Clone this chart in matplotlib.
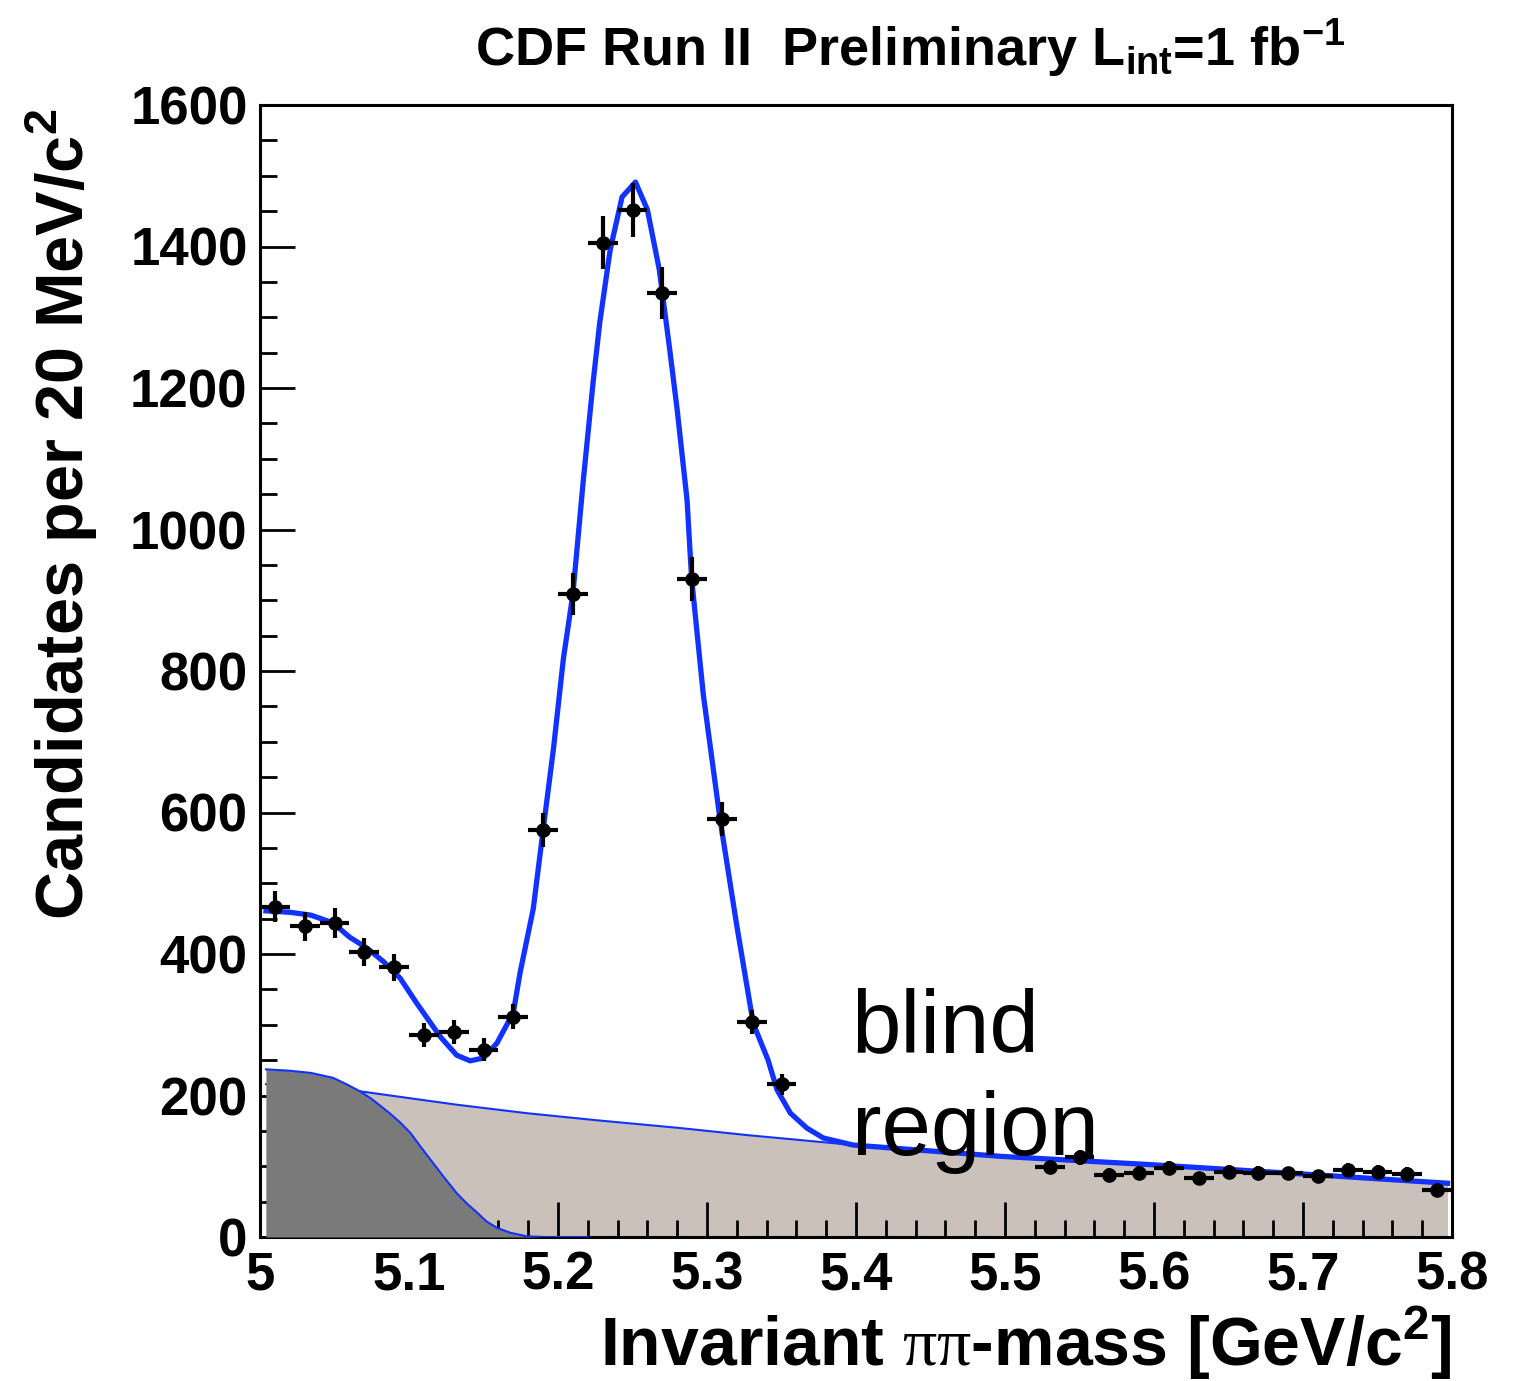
import numpy as np
import matplotlib
matplotlib.use("Agg")
import matplotlib.pyplot as plt
from matplotlib.ticker import MultipleLocator

plt.rcParams['font.family'] = ['Liberation Sans', 'DejaVu Sans']
plt.rcParams['mathtext.fontset'] = 'custom'
plt.rcParams['mathtext.rm'] = 'Liberation Sans:bold'
plt.rcParams['mathtext.bf'] = 'Liberation Sans:bold'
plt.rcParams['mathtext.sf'] = 'Liberation Serif'

# binned candidates, 20 MeV bins (blind region 5.36-5.52 left out)
mass = [5.01, 5.03, 5.05, 5.07, 5.09, 5.11, 5.13, 5.15, 5.17, 5.19,
        5.21, 5.23, 5.25, 5.27, 5.29, 5.31, 5.33, 5.35,
        5.53, 5.55, 5.57, 5.59, 5.61, 5.63, 5.65, 5.67, 5.69, 5.71,
        5.73, 5.75, 5.77, 5.79]
counts = [467, 439, 444, 403, 381, 285, 290, 265, 311, 575,
          909, 1405, 1452, 1334, 930, 591, 304, 216,
          99, 113, 88, 91, 97, 83, 92, 91, 90, 86,
          95, 92, 89, 67]

# total fit curve
fit_x = [5.004, 5.020, 5.034, 5.049, 5.060, 5.072, 5.083, 5.094, 5.105,
         5.121, 5.132, 5.141, 5.150, 5.159, 5.170, 5.1745, 5.1834, 5.190,
         5.197, 5.2036, 5.210, 5.217, 5.2235, 5.228, 5.235, 5.243, 5.252,
         5.260, 5.268, 5.275, 5.280, 5.2866, 5.2897, 5.2975, 5.3087, 5.320,
         5.331, 5.341, 5.347, 5.356, 5.367, 5.378, 5.398, 5.497, 5.60,
         5.70, 5.797]
fit_y = [461, 459, 455, 444, 424, 408, 389, 366, 331,
         283, 257, 249, 253, 274, 317, 373, 464, 575,
         691, 817, 909, 1070, 1207, 1292, 1395, 1470, 1491,
         1452, 1367, 1254, 1169, 1042, 930, 767, 591, 440,
         302, 250, 208, 175, 154, 140, 130, 114, 102,
         89, 76]

# combinatorial background
comb_x = [5.004, 5.034, 5.067, 5.101, 5.132, 5.179, 5.226, 5.282, 5.327,
          5.383, 5.398, 5.497, 5.60, 5.70, 5.797]
comb_y = [216, 211, 206, 196, 187, 175, 165, 154, 144,
          133, 130, 114, 102, 89, 76]

# partially reconstructed B decays
part_x = [5.004, 5.020, 5.034, 5.049, 5.058, 5.067, 5.075, 5.087, 5.094,
          5.101, 5.108, 5.116, 5.124, 5.132, 5.139, 5.146, 5.152, 5.159,
          5.168, 5.179, 5.19, 5.22]
part_y = [237, 235, 232, 225, 216, 206, 195, 175, 162,
          147, 127, 105, 83, 62, 47, 34, 22, 13,
          6, 1, 0, 0]

blue = '#1232ff'
tan = '#cac2ba'
dark = '#7a7a7a'

fig = plt.figure(figsize=(15.2, 13.81), dpi=100)
ax = fig.add_axes([260/1520, 1 - 1237/1381, 1192/1520, 1132/1381])

ax.fill_between(comb_x, 0, comb_y, color=tan, lw=0, zorder=1)
ax.plot(comb_x, comb_y, color=blue, lw=1.5, zorder=2)
ax.fill_between(part_x, 0, part_y, color=dark, lw=0, zorder=3)
ax.plot(part_x, part_y, color=blue, lw=1.5, zorder=4)

ax.plot(fit_x, fit_y, color=blue, lw=3.8, zorder=5, solid_joinstyle='round')

counts_arr = np.array(counts, dtype=float)
ax.errorbar(mass, counts, yerr=np.sqrt(counts_arr), xerr=0.01, fmt='o',
            color='black', ms=9.5, elinewidth=3, capsize=0, zorder=6,
            clip_on=False)

ax.text(5.397, 261, "blind", fontsize=64, va='baseline', ha='left', zorder=10)
ax.text(5.397, 116, "region", fontsize=64, va='baseline', ha='left', zorder=10)

ax.set_xlim(5.0, 5.8)
ax.set_ylim(0, 1600)
ax.xaxis.set_major_locator(MultipleLocator(0.1))
ax.xaxis.set_minor_locator(MultipleLocator(0.02))
ax.yaxis.set_major_locator(MultipleLocator(200))
ax.yaxis.set_minor_locator(MultipleLocator(50))
ax.xaxis.set_major_formatter(plt.FuncFormatter(lambda v, p: f"{v:g}"))

ax.tick_params(which='both', direction='in', top=False, right=False,
               width=2, labelsize=38)
ax.tick_params(which='major', length=25)
ax.tick_params(which='minor', length=12)
ax.tick_params(axis='y', pad=9)
ax.tick_params(axis='x', pad=10)
for lab in ax.get_xticklabels() + ax.get_yticklabels():
    lab.set_fontweight('bold')
for side in ax.spines.values():
    side.set_linewidth(2.2)

fig.text(910/1520, 1 - 66/1381,
         r"CDF Run II  Preliminary L$_{\mathbf{int}}$=1 fb$^{\mathbf{-1}}$",
         fontsize=39, fontweight='bold', ha='center', va='baseline')
fig.text(1452/1520, 1 - 1366/1381,
         r"Invariant $\mathsf{\pi\pi}$-mass [GeV/c$^{\mathbf{2}}$]",
         fontsize=49, fontweight='bold', ha='right', va='baseline')
fig.text(62/1520, 1 - 108/1381, r"Candidates per 20 MeV/c$^{\mathbf{2}}$",
         fontsize=48, fontweight='bold', rotation=90, ha='center', va='top')

fig.savefig("out.png", dpi=100)
